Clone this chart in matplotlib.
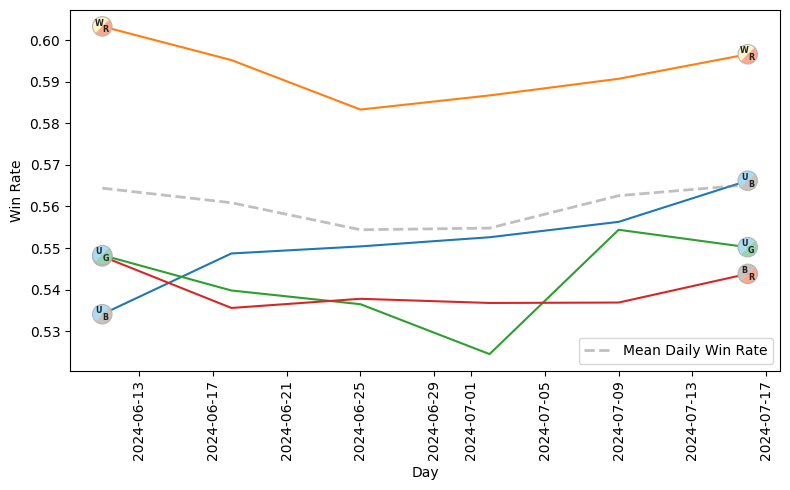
import pandas as pd
import matplotlib
matplotlib.use("Agg")
import matplotlib.pyplot as plt
from matplotlib.offsetbox import AnnotationBbox, DrawingArea
from matplotlib.patches import Wedge, Circle
from matplotlib.text import Text

days = pd.to_datetime(["2024-06-11", "2024-06-18", "2024-06-25",
                       "2024-07-02", "2024-07-09", "2024-07-16"])

# in drawing order, the order sets the default line colours
pairs = ["UB", "WR", "UG", "BR"]
ub_rate = [0.5341, 0.5487, 0.5504, 0.5526, 0.5563, 0.5662]
wr_rate = [0.6033, 0.5952, 0.5833, 0.5867, 0.5907, 0.5966]
ug_rate = [0.5483, 0.5398, 0.5365, 0.5245, 0.5544, 0.5502]
br_rate = [0.5480, 0.5356, 0.5378, 0.5368, 0.5369, 0.5438]
mean_rate = [0.5644, 0.5609, 0.5544, 0.5548, 0.5626, 0.5652]
rates = [ub_rate, wr_rate, ug_rate, br_rate]

mana_colors = {"W": "#fbf5c8", "U": "#a9dcf5", "B": "#c9c2be",
               "R": "#f8a98e", "G": "#9bd3ae"}


def mana_icon(pair):
    # circle split on the diagonal, first colour top left
    size = 15
    c = size / 2
    area = DrawingArea(size, size, 0, 0)
    area.add_artist(Wedge((c, c), 7, 45, 225, fc=mana_colors[pair[0]], ec="none"))
    area.add_artist(Wedge((c, c), 7, 225, 405, fc=mana_colors[pair[1]], ec="none"))
    area.add_artist(Circle((c, c), 7, fc="none", ec="#b5b5b5", lw=0.8))
    area.add_artist(Text(c - 2.4, c + 2.4, pair[0], fontsize=5.8, fontweight="bold",
                         ha="center", va="center", color="#222222"))
    area.add_artist(Text(c + 2.4, c - 2.4, pair[1], fontsize=5.8, fontweight="bold",
                         ha="center", va="center", color="#222222"))
    return area


fig, ax = plt.subplots(figsize=(7.9, 4.9), dpi=100)

for pair, rate in zip(pairs, rates):
    ax.plot(days, rate)

ax.plot(days, mean_rate, color="gray", alpha=0.5, linestyle="--", linewidth=2,
        label="Mean Daily Win Rate")

# icons on the first and last point of each line
for pair, rate in zip(["BR", "UB", "WR", "UG"], [br_rate, ub_rate, wr_rate, ug_rate]):
    for i in [0, -1]:
        box = AnnotationBbox(mana_icon(pair), (days[i], rate[i]), frameon=False,
                             pad=0, zorder=5)
        ax.add_artist(box)

ax.set_xlabel("Day")
ax.set_ylabel("Win Rate")
ax.tick_params(axis="x", rotation=90)
ax.legend(loc="lower right")

fig.subplots_adjust(left=70 / 790, right=780 / 790, top=1 - 10 / 490, bottom=1 - 370.5 / 490)
fig.savefig("out.png", dpi=100)
